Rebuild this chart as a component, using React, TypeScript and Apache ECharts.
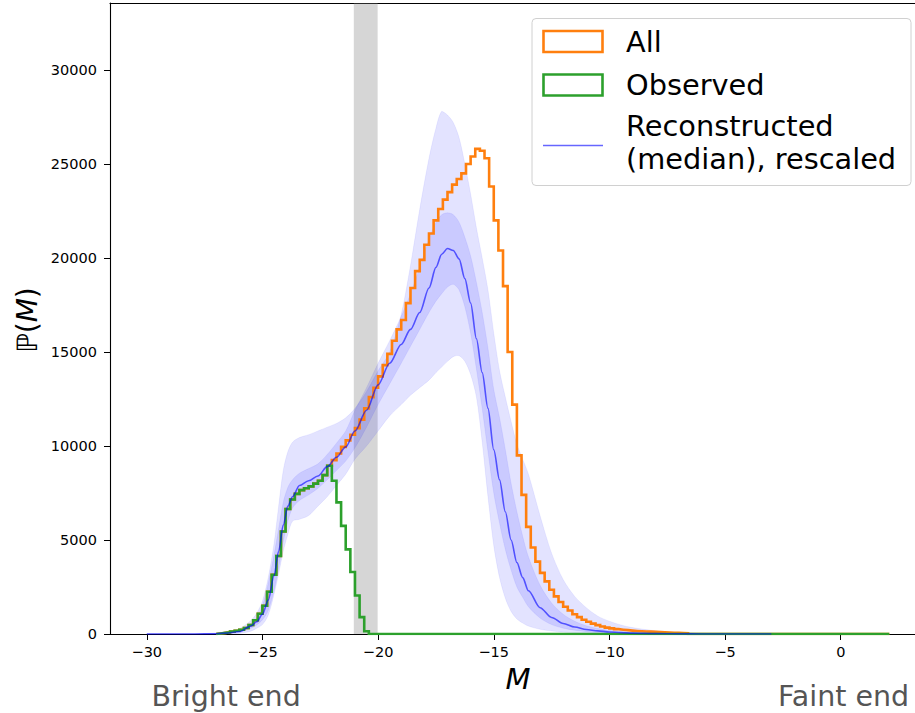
import React, { useEffect, useRef } from "react";
import * as echarts from "echarts";

// Histogram binning (magnitude bins of width 0.2 starting at -27)
const BIN_START = -27.0;
const BIN_WIDTH = 0.2;
const HIST_END = 2.1;

// "All" sample, counts per bin from -27.0 to -6.6
const allCounts = [
  30, 60, 90, 130, 170, 230, 320, 480, 730, 1080,
  1500, 2250, 3150, 4150, 5450, 6650, 7150, 7450, 7650, 7750,
  7850, 8000, 8150, 8450, 8950, 9250, 9600, 9950, 10300, 10600,
  10950, 11400, 12000, 12600, 13100, 13700, 14300, 14900, 15600, 16200,
  16700, 17600, 18400, 19300, 19900, 20700, 21300, 22000, 22600, 23100,
  23500, 23900, 24200, 24500, 25000, 25400, 25800, 25700, 25300, 23800,
  22000, 20400, 18500, 15000, 12200, 9500, 7400, 5700, 4600, 3850,
  3250, 2800, 2350, 2000, 1700, 1450, 1250, 1050, 900, 760,
  650, 550, 470, 400, 340, 300, 260, 230, 205, 180,
  160, 145, 135, 125, 115, 100, 90, 80, 70, 60,
  50, 40,
];

// "Observed" sample, counts per bin from -27.0 to -20.4
const observedCounts = [
  30, 60, 90, 130, 170, 230, 320, 480, 730, 1080,
  1500, 2250, 3150, 4150, 5450, 6650, 7150, 7450, 7650, 7750,
  7850, 8000, 8150, 8450, 8950, 8150, 7000, 5750, 4500, 3300,
  2050, 900, 150,
];

// Reconstructed luminosity function (rescaled): median and credible bands
const magGrid = [
  -30, -28, -27, -26.5, -26, -25.5, -25.25, -25, -24.75, -24.5,
  -24.3, -24.1, -23.9, -23.7, -23.4, -23.0, -22.6, -22.2, -21.8, -21.4,
  -21.0, -20.5, -20.0, -19.5, -19.0, -18.6, -18.2, -17.8, -17.5, -17.25,
  -17.0, -16.75, -16.5, -16.25, -16.0, -15.75, -15.5, -15.25, -15.0, -14.75,
  -14.5, -14.25, -14.0, -13.75, -13.5, -13.0, -12.5, -12.0, -11.5, -11.0,
  -10.5, -10.0, -9.5, -9.0, -8.0, -7.0, -6.0, -5.0, -3.0,
];
const medianCurve = [
  0, 0, 15, 50, 130, 420, 650, 1050, 1800, 3100,
  4400, 5800, 6800, 7300, 7900, 8150, 8400, 8900, 9400, 9950,
  10800, 11900, 13250, 14400, 15400, 16200, 17100, 18400, 19500, 20200,
  20500, 20400, 19950, 18900, 17600, 15700, 13900, 12000, 9800, 8200,
  6500, 5000, 3800, 3000, 2300, 1400, 880, 560, 370, 240,
  165, 110, 75, 48, 20, 7, 2, 0, 0,
];
const innerLow = [
  0, 0, 5, 25, 80, 300, 480, 750, 1250, 2300,
  3500, 4900, 6000, 6700, 7100, 7400, 7750, 8200, 8700, 9200,
  9900, 11000, 12200, 13300, 14400, 15300, 16200, 17100, 17700, 18100,
  18450, 18600, 18300, 17400, 16000, 14100, 12000, 9700, 7500, 5900,
  4500, 3400, 2500, 1950, 1450, 850, 500, 310, 200, 125,
  80, 50, 32, 20, 7, 2, 0, 0, 0,
];
const innerHigh = [
  0, 0, 30, 80, 190, 560, 850, 1500, 2700, 4200,
  5600, 7000, 7800, 8200, 8550, 8800, 9050, 9550, 10150, 10800,
  11900, 13100, 14400, 15600, 16900, 18100, 19500, 21000, 21900, 22300,
  22400, 22300, 21900, 21100, 20100, 18700, 17100, 15200, 13000, 11500,
  9800, 8000, 6500, 5200, 4100, 2600, 1650, 1050, 680, 440,
  290, 190, 125, 82, 36, 13, 4, 1, 0,
];
const outerLow = [
  0, 0, 0, 5, 30, 150, 300, 500, 1000, 2100,
  3200, 4400, 5300, 6000, 6100, 6300, 6800, 7300, 7900, 8500,
  9300, 10000, 10800, 11600, 12200, 12700, 13100, 13500, 13900, 14200,
  14500, 14750, 14800, 14500, 13800, 12600, 10200, 7300, 4700, 3000,
  1900, 1200, 800, 580, 420, 250, 160, 100, 60, 38,
  22, 14, 8, 5, 1, 0, 0, 0, 0,
];
const outerHigh = [
  0, 2, 60, 140, 280, 720, 1100, 1750, 3000, 4800,
  6800, 8700, 9700, 10200, 10450, 10600, 10800, 11000, 11200, 11500,
  12000, 12900, 14000, 15000, 17000, 19600, 22600, 25300, 26900, 27800,
  27600, 27200, 26400, 25000, 23400, 21600, 20000, 18300, 16000, 14000,
  12600, 11300, 10100, 9300, 8500, 6300, 4300, 2900, 2000, 1400,
  950, 680, 480, 340, 170, 90, 36, 10, 0,
];

// Magnitude interval shaded in grey (detection limit)
const gapBand = [-21.05, -20.02];

const xTicks = [-30, -25, -20, -15, -10, -5, 0];
const yTicks = [0, 5000, 10000, 15000, 20000, 25000, 30000];
const X_MIN = -31.59;
const X_MAX = 3.21;
const Y_MAX = 33560;

const FONT = "DejaVu Sans";
const ORANGE = "#ff7f0e";
const GREEN = "#2ca02c";
const BAND = "rgba(0,0,255,0.11)";
const BAND_EDGE = "rgba(0,0,255,0.08)";
const MEDIAN = "rgba(0,0,255,0.6)";

function stepPoints(counts: number[]): number[][] {
  const pts: number[][] = [[BIN_START, 0]];
  counts.forEach((c, i) => pts.push([BIN_START + i * BIN_WIDTH, c]));
  pts.push([BIN_START + counts.length * BIN_WIDTH, 0]);
  pts.push([HIST_END, 0]);
  return pts;
}

function pairs(ys: number[]): number[][] {
  return magGrid.map((m, i) => [m, ys[i]]);
}

// Filled region between two curves, projected through the cartesian scales
function bandSeries(name: string, lo: number[], hi: number[]) {
  return {
    name,
    type: "custom",
    silent: true,
    z: 1,
    clip: true,
    data: [[magGrid[0], 0]],
    renderItem: (_params: any, api: any) => {
      const upper = magGrid.map((m, i) => api.coord([m, hi[i]]));
      const lower = magGrid.map((m, i) => api.coord([m, lo[i]])).reverse();
      const points = upper.concat(lower);
      const xs = points.map((p: number[]) => p[0]);
      const ys = points.map((p: number[]) => p[1]);
      const bounds = [
        [Math.min(...xs), Math.min(...ys)],
        [Math.max(...xs), Math.max(...ys)],
      ];
      return {
        type: "polygon",
        shape: { points, smooth: 0.3, smoothConstraint: bounds },
        style: { fill: BAND, stroke: BAND_EDGE, lineWidth: 0.8 },
      };
    },
  };
}

const minus = (v: number) => (v < 0 ? "\u2212" + Math.abs(v) : String(v));

export default function App() {
  const ref = useRef<HTMLDivElement>(null);

  useEffect(() => {
    if (!ref.current) return;
    const chart = echarts.init(ref.current, undefined, { renderer: "svg" });

    const legendText = (text: string, y: number) => ({
      type: "text",
      x: 626,
      y,
      style: { text, fontFamily: FONT, fontSize: 28.8, fill: "#000", verticalAlign: "middle" },
    });

    const option: any = {
      animation: false,
      backgroundColor: "#ffffff",
      grid: { left: 110, right: 0, top: 3, bottom: 79, containLabel: false },
      xAxis: [
        {
          type: "value",
          min: X_MIN,
          max: X_MAX,
          axisLine: { show: true, onZero: false, lineStyle: { color: "#000", width: 1.1 } },
          axisTick: { show: true, length: 6, customValues: xTicks, lineStyle: { color: "#000", width: 1 } },
          axisLabel: {
            customValues: xTicks,
            formatter: (v: number) => minus(v),
            fontFamily: FONT,
            fontSize: 14.5,
            color: "#000",
            margin: 10,
          },
          splitLine: { show: false },
        },
        {
          type: "value",
          position: "top",
          min: X_MIN,
          max: X_MAX,
          axisLine: { show: true, onZero: false, lineStyle: { color: "#000", width: 1.1 } },
          axisTick: { show: false },
          axisLabel: { show: false },
          splitLine: { show: false },
        },
      ],
      yAxis: {
        type: "value",
        min: 0,
        max: Y_MAX,
        axisLine: { show: true, onZero: false, lineStyle: { color: "#000", width: 1.1 } },
        axisTick: { show: true, length: 6, customValues: yTicks, lineStyle: { color: "#000", width: 1 } },
        axisLabel: {
          customValues: yTicks,
          formatter: (v: number) => String(v),
          fontFamily: FONT,
          fontSize: 14.5,
          color: "#000",
          margin: 13,
        },
        splitLine: { show: false },
      },
      series: [
        bandSeries("outer band", outerLow, outerHigh),
        bandSeries("inner band", innerLow, innerHigh),
        {
          name: "gap",
          type: "line",
          data: [[gapBand[0], 0]],
          symbol: "none",
          lineStyle: { width: 0 },
          silent: true,
          z: 2,
          markArea: {
            silent: true,
            itemStyle: { color: "rgba(128,128,128,0.32)", borderWidth: 0 },
            data: [[{ xAxis: gapBand[0] }, { xAxis: gapBand[1] }]],
          },
        },
        {
          name: "All",
          type: "line",
          step: "end",
          data: stepPoints(allCounts),
          symbol: "none",
          silent: true,
          z: 3,
          lineStyle: { color: ORANGE, width: 2.6, join: "miter" },
        },
        {
          name: "Observed",
          type: "line",
          step: "end",
          data: stepPoints(observedCounts),
          symbol: "none",
          silent: true,
          z: 4,
          lineStyle: { color: GREEN, width: 2.6, join: "miter" },
        },
        {
          name: "Reconstructed (median), rescaled",
          type: "line",
          data: pairs(medianCurve),
          symbol: "none",
          smooth: 0.3,
          smoothMonotone: "x",
          silent: true,
          z: 5,
          lineStyle: { color: MEDIAN, width: 1.6 },
        },
      ],
      graphic: [
        {
          type: "text",
          x: 27,
          y: 320,
          rotation: Math.PI / 2,
          style: {
            text: "{a|\u2119(}{b|M}{a|)}",
            align: "center",
            verticalAlign: "middle",
            rich: {
              a: { fontFamily: FONT, fontSize: 28, fill: "#000" },
              b: { fontFamily: FONT, fontSize: 28, fontStyle: "italic", fill: "#000" },
            },
          },
        },
        {
          type: "text",
          x: 518,
          y: 679,
          style: {
            text: "M",
            fontFamily: FONT,
            fontSize: 29,
            fontStyle: "italic",
            fill: "#000",
            align: "center",
            verticalAlign: "middle",
          },
        },
        {
          type: "text",
          x: 151.5,
          y: 696,
          style: {
            text: "Bright end",
            fontFamily: FONT,
            fontSize: 28.5,
            fill: "#555555",
            align: "left",
            verticalAlign: "middle",
          },
        },
        {
          type: "text",
          x: 778,
          y: 696,
          style: {
            text: "Faint end",
            fontFamily: FONT,
            fontSize: 28.5,
            fill: "#555555",
            align: "left",
            verticalAlign: "middle",
          },
        },
        {
          type: "group",
          z: 100,
          children: [
            {
              type: "rect",
              shape: { x: 532, y: 18.5, width: 379, height: 167, r: 4 },
              style: { fill: "rgba(255,255,255,0.8)", stroke: "#d0d0d0", lineWidth: 1 },
            },
            {
              type: "rect",
              shape: { x: 543.5, y: 31, width: 59, height: 21 },
              style: { fill: "none", stroke: ORANGE, lineWidth: 2.6 },
            },
            {
              type: "rect",
              shape: { x: 543.5, y: 74.5, width: 59, height: 21 },
              style: { fill: "none", stroke: GREEN, lineWidth: 2.6 },
            },
            {
              type: "line",
              shape: { x1: 543, y1: 145.5, x2: 603, y2: 145.5 },
              style: { stroke: MEDIAN, lineWidth: 1.6 },
            },
            legendText("All", 42),
            legendText("Observed", 84.5),
            legendText("Reconstructed", 126),
            legendText("(median), rescaled", 159),
          ],
        },
      ],
    };

    chart.setOption(option);
    return () => chart.dispose();
  }, []);

  return (
    <div
      ref={ref}
      style={{ position: "fixed", left: 0, top: 0, width: 915, height: 713, background: "#fff" }}
    />
  );
}
